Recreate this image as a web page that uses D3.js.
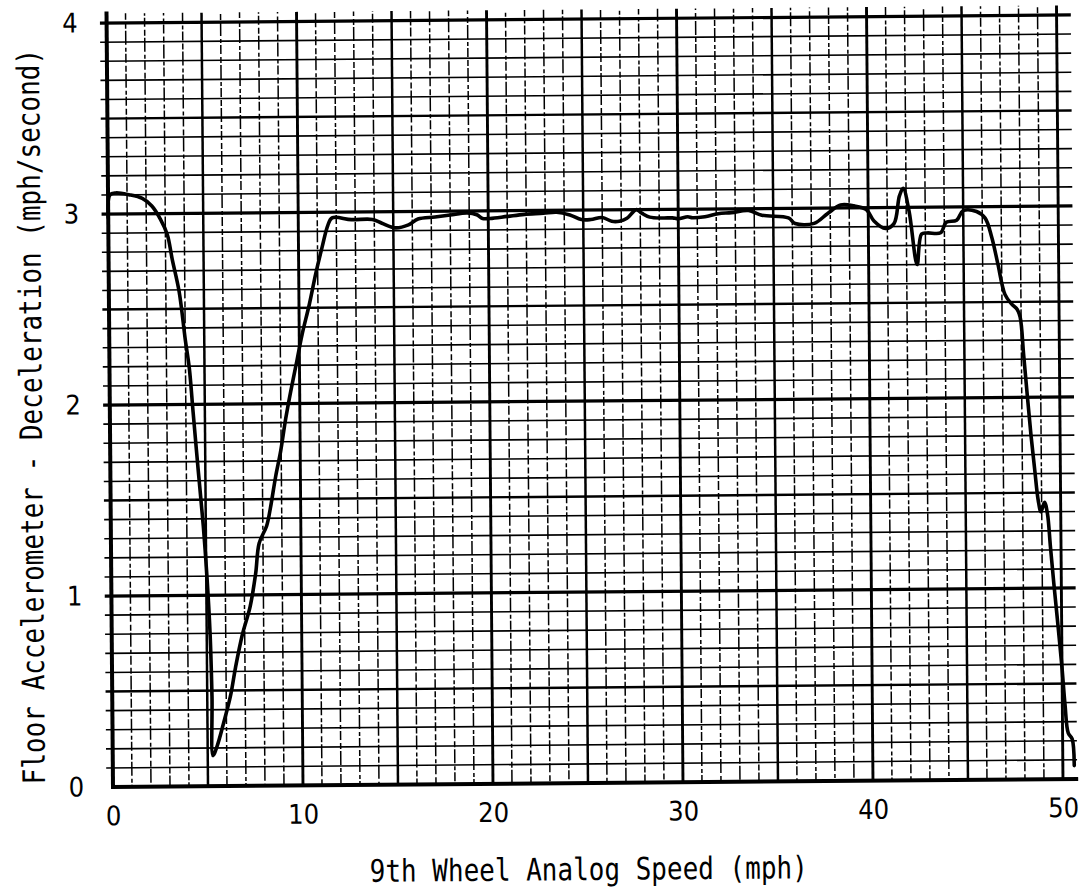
<!DOCTYPE html>
<html>
<head>
<meta charset="utf-8">
<script src="https://cdn.jsdelivr.net/npm/d3@7"></script>
<style>
  html, body { margin: 0; padding: 0; background: #fff; }
  svg { display: block; }
</style>
</head>
<body>
<svg id="chart" width="1081" height="890"></svg>
<script>
// Ninth-wheel speed (mph) and floor accelerometer deceleration (mph/s) trace
const speed = [
  0.0, 0.1, 0.4, 1.1, 1.8, 2.3, 2.75, 3.1, 3.35, 3.7, 4.0, 4.2, 4.38, 4.62, 4.87, 5.03, 5.18, 5.25, 5.28,
  5.5, 5.85, 6.22, 6.5, 6.87, 7.3, 7.6, 7.8, 8.2, 8.4, 8.7, 8.97, 9.25, 9.52, 9.88, 10.15, 10.55, 10.9,
  11.25, 11.55, 11.78,
  12.8, 13.9, 14.4, 15.1, 15.8, 16.3, 17.2, 18.0, 18.9, 19.4, 19.7, 20.1, 21.0, 21.9, 22.9, 23.6, 24.3,
  24.9, 25.4, 26.0, 26.5, 26.9, 27.3, 27.8, 28.1, 28.5, 29.2, 29.7, 30.0, 30.5,
  30.75, 31.4, 32.1, 32.8, 33.7, 34.4, 35.8, 36.15, 37.15, 37.85, 38.55, 39.25, 39.9, 40.3, 40.9, 41.35,
  41.65, 41.85, 42.15, 42.55, 42.8, 43.1, 43.8, 44.1, 44.65, 45.0, 45.7, 46.15, 46.49,
  46.8, 47.16, 47.5, 47.8, 47.95, 48.12, 48.3, 48.47, 48.65, 48.82, 48.96, 49.15, 49.3, 49.44, 49.6,
  49.8, 50.0, 50.14, 50.3, 50.5, 50.6
];
const decel = [
  2.98, 3.10, 3.11, 3.10, 3.08, 3.04, 2.97, 2.89, 2.76, 2.59, 2.34, 2.19, 1.96, 1.66, 1.36, 1.11, 0.79, 0.47, 0.16,
  0.21, 0.33, 0.47, 0.62, 0.79, 0.94, 1.11, 1.27, 1.36, 1.45, 1.62, 1.75, 1.92, 2.06, 2.23, 2.36, 2.52, 2.68,
  2.82, 2.93, 2.97,
  2.96, 2.96, 2.94, 2.915, 2.93, 2.96, 2.97, 2.98, 2.99, 2.98, 2.96, 2.96, 2.97, 2.98, 2.985, 2.99, 2.975,
  2.95, 2.95, 2.96, 2.94, 2.94, 2.955, 3.0, 2.98, 2.96, 2.955, 2.955, 2.95, 2.96,
  2.955, 2.96, 2.975, 2.98, 2.99, 2.965, 2.95, 2.92, 2.92, 2.97, 3.015, 3.01, 2.99, 2.93, 2.89, 2.915,
  3.06, 3.10, 2.98, 2.70, 2.86, 2.865, 2.865, 2.92, 2.93, 2.98, 2.975, 2.94, 2.84,
  2.70, 2.54, 2.49, 2.46, 2.42, 2.22, 2.0, 1.80, 1.62, 1.46, 1.40, 1.45, 1.39, 1.22, 1.03,
  0.81, 0.58, 0.39, 0.24, 0.21, 0.07
];

const xTickValues = [0, 10, 20, 30, 40, 50];
const yTickValues = [0, 1, 2, 3, 4];
const xTitle = "9th Wheel Analog Speed (mph)";
const yTitle = "Floor Accelerometer - Deceleration (mph/second)";

const W = 1081, H = 890;
const x = d3.scaleLinear().domain([0, 50]).range([113, 1063]);
const y = d3.scaleLinear().domain([0, 4]).range([787, 23]);

const svg = d3.select("#chart");
svg.append("rect").attr("width", W).attr("height", H).attr("fill", "#fff");

// The printed sheet sits slightly askew; everything is drawn in one tilted frame.
const g = svg.append("g")
  .attr("transform", `rotate(-0.48 ${x(0)} ${y(0)})`);

const ink = "#000";

// Graph-paper grid: fine rulings every 1 mph and 0.1 mph/s, heavier every 5 mph / 0.5 mph/s.
const grid = g.append("g").attr("class", "grid");

const hRows = d3.range(1, 41);
grid.selectAll("line.h")
  .data(hRows)
  .join("line")
  .attr("class", "h")
  .attr("x1", x(-0.35))
  .attr("x2", x(50.75))
  .attr("y1", d => y(d / 10))
  .attr("y2", d => y(d / 10))
  .attr("stroke", ink)
  .attr("stroke-width", d => d % 10 === 0 ? 3.2 : d % 5 === 0 ? 2.4 : 1.6);

const vCols = d3.range(1, 51);
grid.selectAll("line.v")
  .data(vCols)
  .join("line")
  .attr("class", "v")
  .attr("x1", d => x(d))
  .attr("x2", d => x(d))
  .attr("y1", y(0))
  .attr("y2", y(4.05))
  .attr("stroke", ink)
  .attr("stroke-width", d => d % 10 === 0 ? 2.9 : d % 5 === 0 ? 2.5 : 1.5)
  .attr("stroke-dasharray", d => d % 5 === 0 ? null : "9,2,4,3,14,2,6,3")
  .attr("stroke-dashoffset", d => d * 7);

// Heavy frame lines along the axes
g.append("line")
  .attr("x1", x(0)).attr("x2", x(0))
  .attr("y1", y(-0.01)).attr("y2", y(4.06))
  .attr("stroke", ink).attr("stroke-width", 4);
g.append("line")
  .attr("x1", x(-0.05)).attr("x2", x(50.8))
  .attr("y1", y(0)).attr("y2", y(0))
  .attr("stroke", ink).attr("stroke-width", 4);

// Recorded trace
const line = d3.line()
  .x(d => x(d[0]))
  .y(d => y(d[1]))
  .curve(d3.curveCatmullRom.alpha(0.5));

g.append("path")
  .datum(d3.zip(speed, decel))
  .attr("d", line)
  .attr("fill", "none")
  .attr("stroke", ink)
  .attr("stroke-width", 3.6)
  .attr("stroke-linejoin", "round")
  .attr("stroke-linecap", "round");

// Tick labels
const labelFont = "'DejaVu Sans Condensed', 'DejaVu Sans', sans-serif";

const xAxis = g.append("g")
  .attr("transform", `translate(0,${y(0)})`)
  .call(d3.axisBottom(x).tickValues(xTickValues).tickSize(0).tickPadding(19).tickFormat(d3.format("d")));
xAxis.select(".domain").remove();
xAxis.selectAll("text")
  .attr("font-family", labelFont)
  .attr("font-size", 27)
  .attr("fill", ink);

const yAxis = g.append("g")
  .attr("transform", `translate(${x(0)},0)`)
  .call(d3.axisLeft(y).tickValues(yTickValues).tickSize(0).tickPadding(29).tickFormat(d3.format("d")));
yAxis.select(".domain").remove();
yAxis.selectAll("text")
  .attr("font-family", labelFont)
  .attr("font-size", 27)
  .attr("fill", ink);

// Axis titles in a tall, narrow typewriter face (monospace stretched vertically)
const titleFont = "'DejaVu Sans Mono', 'Liberation Mono', monospace";

g.append("text")
  .attr("transform", "translate(588,884) scale(1,1.19)")
  .attr("text-anchor", "middle")
  .attr("font-family", titleFont)
  .attr("font-size", 26)
  .attr("fill", ink)
  .text(xTitle);

g.append("text")
  .attr("transform", "translate(45,416) rotate(-90) scale(1,1.19)")
  .attr("text-anchor", "middle")
  .attr("font-family", titleFont)
  .attr("font-size", 26)
  .attr("fill", ink)
  .text(yTitle);
</script>
</body>
</html>
